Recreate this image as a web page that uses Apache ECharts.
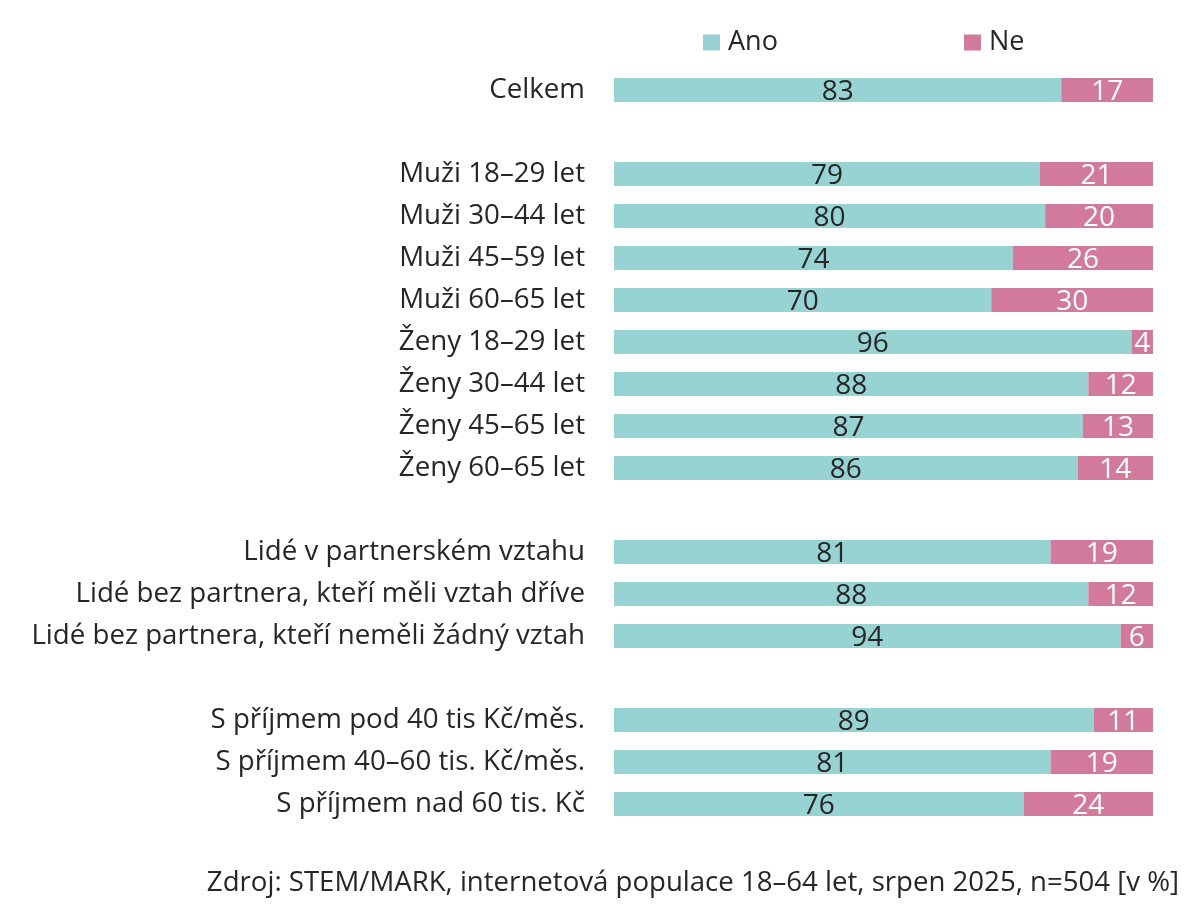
<!DOCTYPE html>
<html>
<head>
<meta charset="utf-8">
<script src="https://cdn.jsdelivr.net/npm/echarts@6/dist/echarts.min.js"></script>
<style>
  html, body { margin: 0; padding: 0; background: #fff; }
  #chart { width: 1200px; height: 907px; }
</style>
</head>
<body>
<div id="chart"></div>
<script>
// kategorie (prázdné řetězce = mezery mezi skupinami)
var categories = [
  'Celkem', '',
  'Muži 18–29 let', 'Muži 30–44 let', 'Muži 45–59 let', 'Muži 60–65 let',
  'Ženy 18–29 let', 'Ženy 30–44 let', 'Ženy 45–65 let', 'Ženy 60–65 let', ' ',
  'Lidé v partnerském vztahu', 'Lidé bez partnera, kteří měli vztah dříve',
  'Lidé bez partnera, kteří neměli žádný vztah', '  ',
  'S příjmem pod 40 tis Kč/měs.', 'S příjmem 40–60 tis. Kč/měs.', 'S příjmem nad 60 tis. Kč'
];
var ano = [83, null, 79, 80, 74, 70, 96, 88, 87, 86, null, 81, 88, 94, null, 89, 81, 76];
var ne  = [17, null, 21, 20, 26, 30, 4, 12, 13, 14, null, 19, 12, 6, null, 11, 19, 24];
var source = 'Zdroj: STEM/MARK, internetová populace 18–64 let, srpen 2025, n=504 [v %]';

var font = '"Open Sans", "Noto Sans", sans-serif';
var txt = '#262626';
var chart = echarts.init(document.getElementById('chart'));
chart.setOption({
  animation: false,
  textStyle: { fontFamily: font },
  legend: [
    { data: ['Ano'], left: 698, top: 24, itemWidth: 17, itemHeight: 16, icon: 'rect',
      textStyle: { fontSize: 27, color: txt, fontFamily: font, padding: [0, 0, 0, 3] } },
    { data: ['Ne'], left: 959, top: 24, itemWidth: 17, itemHeight: 16, icon: 'rect',
      textStyle: { fontSize: 27, color: txt, fontFamily: font, padding: [0, 0, 0, 3] } }
  ],
  title: {
    text: source, right: 16, top: 864,
    textStyle: { fontSize: 27.6, fontWeight: 'normal', color: txt, fontFamily: font }
  },
  grid: { left: 614, right: 47, top: 69, bottom: 82 },
  xAxis: { type: 'value', min: 0, max: 100, show: false },
  yAxis: {
    type: 'category', data: categories, inverse: true,
    axisLine: { show: false }, axisTick: { show: false },
    axisLabel: { fontSize: 27.7, color: txt, margin: 29, fontFamily: font }
  },
  series: [
    { name: 'Ano', type: 'bar', stack: 'a', data: ano, barWidth: 24,
      itemStyle: { color: '#97d3d3' },
      label: { show: true, position: 'inside', fontSize: 28, color: txt, fontFamily: font, offset: [0, 2] } },
    { name: 'Ne', type: 'bar', stack: 'a', data: ne, barWidth: 24,
      itemStyle: { color: '#d27a9c' },
      label: { show: true, position: 'inside', fontSize: 28, color: '#fff', fontFamily: font, offset: [0, 2] } }
  ]
});
</script>
</body>
</html>
